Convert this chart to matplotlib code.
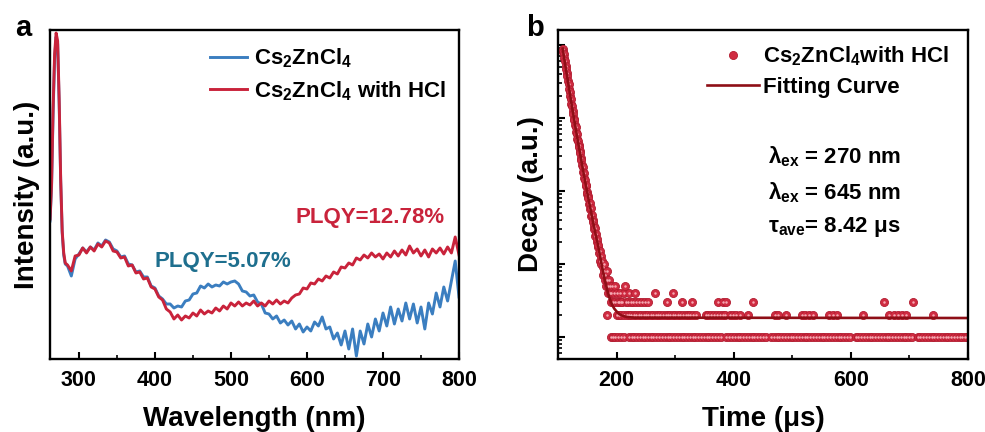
"""Two-panel figure: PL spectra (a) and PL decay (b) of Cs2ZnCl4."""
import matplotlib
matplotlib.use("Agg")
import matplotlib.pyplot as plt
from matplotlib.ticker import MultipleLocator, LogLocator, NullFormatter

plt.rcParams["font.family"] = ["Liberation Sans", "DejaVu Sans"]
plt.rcParams["font.weight"] = "bold"
plt.rcParams["axes.labelweight"] = "bold"
plt.rcParams["mathtext.fontset"] = "custom"
plt.rcParams["mathtext.rm"] = "Liberation Sans:bold"
plt.rcParams["mathtext.it"] = "Liberation Sans:bold"
plt.rcParams["mathtext.bf"] = "Liberation Sans:bold"

BLUE = "#3B7EC0"
RED = "#C9233B"
TEAL = "#1E6F8E"
DARKRED = "#8E0E16"

# ---- panel a: emission spectra (arbitrary units) ----
wavelength = [262, 264, 266, 268, 270, 272, 274, 276, 278, 280, 282,
              285, 290, 295, 300, 305, 310, 315, 320, 325, 330,
              335, 340, 345, 350, 355, 360, 365, 370, 375, 380,
              385, 390, 395, 400, 405, 410, 415, 420, 425, 430,
              435, 440, 445, 450, 455, 460, 465, 470, 475, 480,
              485, 490, 495, 500, 505, 510, 515, 520, 525, 530,
              535, 540, 545, 550, 555, 560, 565, 570, 575, 580,
              585, 590, 595, 600, 605, 610, 615, 620, 625, 630,
              635, 640, 645, 650, 655, 660, 665, 670, 675, 680,
              685, 690, 695, 700, 705, 710, 715, 720, 725, 730,
              735, 740, 745, 750, 755, 760, 765, 770, 775, 780,
              785, 790, 795, 800]

pure_intensity = [138, 172, 245, 300, 322, 315, 255, 178, 126, 104, 95,
                  93, 83, 100, 105, 111, 107, 112, 109, 116, 113,
                  119, 117, 110, 108, 102, 103, 95, 94, 87, 88,
                  82, 82, 73, 71, 63, 60, 55, 55, 51, 53,
                  52, 58, 59, 65, 66, 73, 71, 75, 72, 74,
                  73, 77, 75, 77, 78, 75, 68, 67, 63, 64,
                  57, 55, 46, 45, 40, 43, 36, 39, 34, 38,
                  30, 35, 27, 32, 28, 37, 33, 42, 30, 32,
                  20, 26, 14, 28, 10, 30, 3, 28, 15, 35,
                  22, 40, 28, 46, 33, 52, 35, 50, 38, 56,
                  40, 55, 36, 52, 30, 56, 45, 66, 52, 72,
                  58, 78, 98, 62]

hcl_intensity = [140, 175, 250, 305, 326, 318, 260, 180, 128, 106, 96,
                 94, 88, 103, 104, 111, 106, 112, 108, 115, 112,
                 118, 116, 108, 107, 101, 102, 93, 94, 86, 87,
                 80, 81, 72, 70, 62, 59, 50, 47, 40, 44,
                 39, 43, 41, 46, 43, 49, 45, 48, 46, 51,
                 48, 53, 50, 56, 53, 57, 53, 56, 54, 58,
                 53, 56, 53, 58, 55, 59, 55, 58, 56, 61,
                 64, 65, 71, 70, 76, 75, 80, 78, 83, 81,
                 87, 85, 92, 91, 96, 94, 101, 99, 104, 101,
                 106, 102, 105, 100, 106, 102, 108, 103, 109, 104,
                 113, 106, 110, 103, 109, 102, 110, 106, 111, 105,
                 112, 106, 122, 104]

wl_ticks = [300, 400, 500, 600, 700, 800]

# ---- panel b: decay counts ----
decay_time = [108, 109, 110, 111, 112, 113, 114, 115, 116, 117, 118, 119,
              120, 121, 122, 123, 124, 125, 126, 127, 128, 129, 130, 131,
              132, 133, 134, 135, 136, 137, 138, 139, 140, 141, 142, 143,
              144, 145, 146, 147, 148, 149, 150, 151, 152, 153, 154, 155,
              156, 157, 158, 159, 160, 161, 162, 163, 164, 165, 166, 167,
              168, 169, 170, 171, 172, 173, 174, 175]
decay_counts = [8800, 8100, 7600, 6600, 6000, 5200, 4700, 4100, 3700, 3200, 2900, 2500,
                2300, 2000, 1800, 1550, 1450, 1230, 1130, 980, 930, 790, 740, 640,
                610, 520, 490, 420, 400, 350, 330, 280, 265, 230, 215, 180,
                175, 150, 140, 118, 120, 98, 92, 84, 80, 66, 68, 56,
                58, 45, 47, 40, 37, 33, 30, 31, 24, 26, 20, 22,
                17, 18, 14, 15, 11, 13, 10, 11]

tail_time = [176, 177, 178, 179, 180, 181, 182, 183, 184, 185, 186, 187, 188, 189,
             190, 191, 192, 194, 195, 197, 198, 200, 202, 204, 206, 208, 210, 212,
             214, 216, 219, 222, 225, 228, 231, 234, 238, 243, 248, 253, 266, 286,
             297, 311, 329, 374, 381, 387, 433, 656, 706]
tail_counts = [9, 7, 10, 8, 6, 7, 5, 8, 6, 4, 5, 6, 4, 5,
               3, 4, 5, 3, 4, 5, 3, 4, 3, 3, 4, 3, 3, 4,
               5, 3, 3, 4, 3, 3, 4, 3, 3, 3, 3, 3, 4, 3,
               4, 3, 3, 3, 3, 3, 3, 3, 3]

two_count_time = [183, 200, 204, 208, 212, 217, 221, 225, 229, 233, 238, 242, 246,
                  250, 254, 259, 263, 267, 271, 275, 280, 284, 288, 292, 296, 300,
                  305, 309, 313, 318, 322, 326, 331, 335, 352, 356, 361, 366, 371,
                  376, 381, 385, 394, 399, 404, 410, 425, 470, 476, 490, 516, 522,
                  529, 536, 562, 569, 576, 621, 666, 673, 680, 687, 694, 741]

one_count_time = [190, 194, 198, 203, 207, 212, 221, 226, 230, 235, 240, 245, 249,
                  254, 259, 263, 268, 273, 277, 282, 287, 292, 296, 301, 306, 311,
                  315, 320, 325, 330, 334, 339, 344, 349, 354, 358, 363, 368, 373,
                  378, 387, 392, 397, 402, 407, 411, 416, 421, 426, 431, 435, 440,
                  445, 450, 455, 464, 469, 474, 478, 483, 488, 493, 498, 502, 507,
                  512, 517, 522, 526, 531, 536, 541, 546, 550, 555, 560, 565, 570,
                  574, 579, 584, 589, 594, 598, 608, 613, 618, 622, 627, 632, 637,
                  642, 646, 651, 656, 661, 666, 670, 675, 680, 685, 690, 694, 699,
                  704, 714, 718, 723, 728, 733, 738, 742, 747, 752, 757, 762, 766,
                  771, 776, 781, 786, 790, 795, 799]

fit_time = [108, 112, 116, 120, 124, 128, 132, 136, 140, 144, 148, 152, 156, 160,
            164, 168, 172, 176, 180, 184, 188, 192, 196, 200, 205, 210, 218, 230, 800]
fit_counts = [8900, 5600, 3550, 2240, 1410, 910, 590, 390, 257, 170, 115, 78, 54, 37,
              26, 18.6, 12.6, 8.5, 6.0, 4.4, 3.4, 2.8, 2.45, 2.24, 2.05, 1.95, 1.88,
              1.84, 1.82]

time_ticks = [200, 400, 600, 800]

all_time = decay_time + tail_time + two_count_time + one_count_time
all_counts = (decay_counts + tail_counts + [2] * len(two_count_time)
              + [1] * len(one_count_time))

fig = plt.figure(figsize=(9.85, 4.32), dpi=100)
ax1 = fig.add_axes([0.0508, 0.169, 0.4152, 0.7616])
ax2 = fig.add_axes([0.5665, 0.169, 0.4162, 0.7616])

# panel a
ax1.plot(wavelength, pure_intensity, color=BLUE, lw=2.1, label=r"Cs$_2$ZnCl$_4$")
ax1.plot(wavelength, hcl_intensity, color=RED, lw=2.1, label=r"Cs$_2$ZnCl$_4$ with HCl")
ax1.set_xlim(262, 800)
ax1.set_ylim(0, 329)
ax1.set_yticks([])
ax1.set_xticks(wl_ticks)
ax1.xaxis.set_minor_locator(MultipleLocator(50))
ax1.set_xlabel("Wavelength (nm)", fontsize=20, labelpad=11)
ax1.set_ylabel("Intensity (a.u.)", fontsize=20, labelpad=7)
ax1.legend(loc="upper left", bbox_to_anchor=(0.39, 0.95), frameon=False,
           fontsize=16, handlelength=1.7, handletextpad=0.3, labelspacing=0.4,
           borderpad=0, borderaxespad=0)
ax1.text(0.423, 0.295, "PLQY=5.07%", color=TEAL, fontsize=16, ha="center",
         va="center", transform=ax1.transAxes)
ax1.text(0.782, 0.429, "PLQY=12.78%", color=RED, fontsize=16, ha="center",
         va="center", transform=ax1.transAxes)

# panel b
ax2.plot(all_time, all_counts, "o", ms=5.8, mfc="#D02C42", mec="#B21B2F", mew=0.6,
         ls="none", label=r"Cs$_2$ZnCl$_4$with HCl")
ax2.plot(all_time, all_counts, "o", ms=1.8, mfc="#F6A8B2", mec="none", ls="none")
ax2.plot(fit_time, fit_counts, color=DARKRED, lw=1.9, label="Fitting Curve")
ax2.set_yscale("log")
ax2.set_ylim(0.5, 16000)
ax2.set_xlim(100, 800)
ax2.set_xticks(time_ticks)
ax2.xaxis.set_minor_locator(MultipleLocator(100))
ax2.yaxis.set_major_locator(LogLocator(base=10, numticks=10))
ax2.yaxis.set_minor_locator(LogLocator(base=10, subs=range(2, 10), numticks=10))
ax2.yaxis.set_major_formatter(NullFormatter())
ax2.yaxis.set_minor_formatter(NullFormatter())
ax2.set_xlabel("Time (μs)", fontsize=20, labelpad=11)
ax2.set_ylabel("Decay (a.u.)", fontsize=20, labelpad=2)
ax2.legend(loc="upper left", bbox_to_anchor=(0.363, 0.955), frameon=False,
           fontsize=16, handlelength=2.35, handletextpad=0.2, labelspacing=0.4,
           borderpad=0, borderaxespad=0, numpoints=1)
ax2.text(0.512, 0.614, r"λ$_{ex}$ = 270 nm", fontsize=16, va="center",
         transform=ax2.transAxes)
ax2.text(0.512, 0.505, r"λ$_{ex}$ = 645 nm", fontsize=16, va="center",
         transform=ax2.transAxes)
ax2.text(0.512, 0.401, r"τ$_{ave}$= 8.42 μs", fontsize=16, va="center",
         transform=ax2.transAxes)

for ax in (ax1, ax2):
    for sp in ax.spines.values():
        sp.set_linewidth(1.7)
    ax.tick_params(which="major", direction="in", length=5, width=1.5,
                   labelsize=15.5, pad=8)
    ax.tick_params(which="minor", direction="in", length=3, width=1.2)

fig.text(0.024, 0.935, "a", fontsize=21, ha="center", va="center")
fig.text(0.543, 0.935, "b", fontsize=21, ha="center", va="center")

fig.savefig("out.png", dpi=100)
